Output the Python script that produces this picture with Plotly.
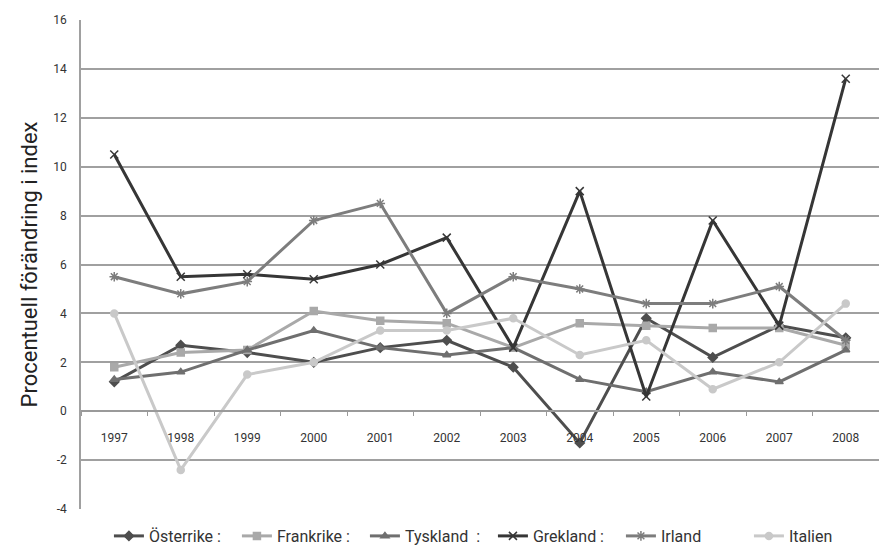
import plotly.graph_objects as go

years = ["1997", "1998", "1999", "2000", "2001", "2002",
         "2003", "2004", "2005", "2006", "2007", "2008"]

y_ticks = [-4, -2, 0, 2, 4, 6, 8, 10, 12, 14, 16]
y_ticklabels = ["-4", "-2", "0", "2", "4", "6", "8", "10", "12", "14", "16"]

osterrike = [1.2, 2.7, 2.4, 2.0, 2.6, 2.9, 1.8, -1.3, 3.8, 2.2, 3.5, 3.0]
frankrike = [1.8, 2.4, 2.5, 4.1, 3.7, 3.6, 2.6, 3.6, 3.5, 3.4, 3.4, 2.7]
tyskland = [1.3, 1.6, 2.5, 3.3, 2.6, 2.3, 2.6, 1.3, 0.8, 1.6, 1.2, 2.5]
grekland = [10.5, 5.5, 5.6, 5.4, 6.0, 7.1, 2.6, 9.0, 0.6, 7.8, 3.5, 13.6]
irland = [5.5, 4.8, 5.3, 7.8, 8.5, 4.0, 5.5, 5.0, 4.4, 4.4, 5.1, 2.9]
italien = [4.0, -2.4, 1.5, 2.0, 3.3, 3.3, 3.8, 2.3, 2.9, 0.9, 2.0, 4.4]

series = [
    ("Österrike :", osterrike, "#4e4e4e", "diamond", 7),
    ("Frankrike :", frankrike, "#a9a9a9", "square", 7),
    ("Tyskland  :", tyskland, "#6f6f6f", "triangle-up", 7),
    ("Grekland :", grekland, "#363636", "x-thin-open", 8),
    ("Irland", irland, "#7d7d7d", "asterisk-open", 8),
    ("Italien", italien, "#c9c9c9", "circle", 7),
]

font_main = "Roboto, sans-serif"

fig = go.Figure()
for name, vals, color, symbol, size in series:
    fig.add_trace(go.Scatter(
        x=years, y=vals, name=name, mode="lines+markers",
        line=dict(color=color, width=3),
        marker=dict(symbol=symbol, size=size, color=color,
                    line=dict(color=color, width=1.5)),
    ))

fig.update_layout(
    width=879, height=553,
    margin=dict(l=81, r=0, t=20, b=43),
    paper_bgcolor="white", plot_bgcolor="white",
    font=dict(family=font_main, color="#333333"),
    showlegend=True,
    legend=dict(
        orientation="h", x=0.035, xanchor="left",
        y=-0.055, yanchor="middle", yref="paper",
        font=dict(size=16, family=font_main, color="#333333"),
        entrywidth=83, entrywidthmode="pixels",
        itemwidth=30, tracegroupgap=0,
    ),
    xaxis=dict(
        type="category", range=[-0.5, 11.5],
        anchor="free", position=0.2,
        showgrid=False, showline=True, linecolor="#9a9a9a", linewidth=1.5,
        ticks="outside", tickson="boundaries", ticklen=4,
        tickcolor="#9a9a9a", ticklabelstandoff=16,
        tickfont=dict(size=12, family=font_main, color="#333333"),
        zeroline=False,
    ),
    yaxis=dict(
        range=[-4, 16], tickvals=y_ticks, ticktext=y_ticklabels,
        showgrid=True, gridcolor="#a0a0a0", gridwidth=1.5,
        showline=True, linecolor="#a0a0a0", linewidth=1.5,
        ticks="", zeroline=False, ticklabelstandoff=10,
        tickfont=dict(size=12, family=font_main, color="#333333"),
        title=dict(text="Procentuell förändring i index",
                   font=dict(size=22, family=font_main, color="#222222"),
                   standoff=10),
    ),
)

fig.write_html("out.html")
